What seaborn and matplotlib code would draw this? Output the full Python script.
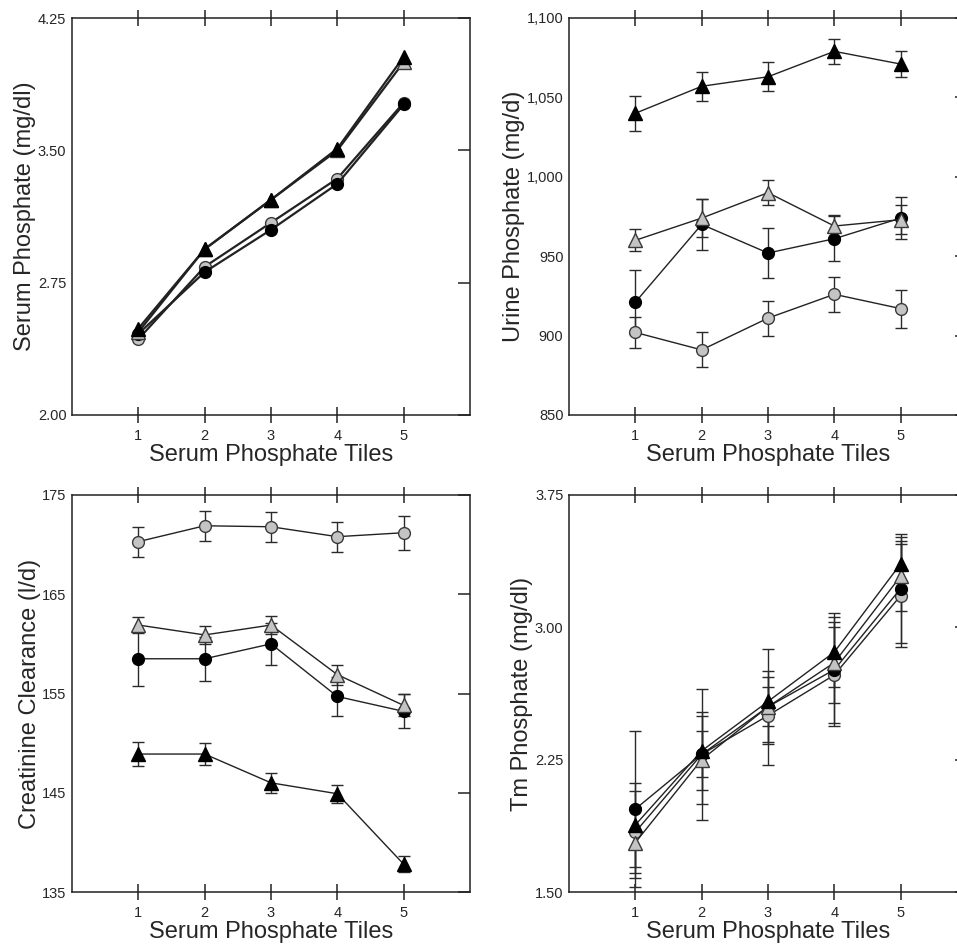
import numpy as np
import pandas as pd
import matplotlib
matplotlib.use("Agg")
import matplotlib.pyplot as plt
import seaborn as sns
from matplotlib.ticker import FuncFormatter

sns.set_style("ticks")
plt.rcParams['font.family'] = ['Liberation Sans', 'DejaVu Sans']

tiles = [1, 2, 3, 4, 5]
groups = ["open_circle", "filled_circle", "open_triangle", "filled_triangle"]

# Panel A: Serum phosphate (mg/dl)
serum_open_circle = [2.43, 2.84, 3.09, 3.34, 3.77]
serum_filled_circle = [2.46, 2.81, 3.05, 3.31, 3.76]
serum_open_triangle = [2.47, 2.94, 3.22, 3.50, 4.00]
serum_filled_triangle = [2.49, 2.94, 3.22, 3.51, 4.03]

# Panel B: Urine phosphate (mg/d) and SE
urine_open_circle = [902, 891, 911, 926, 917]
urine_open_circle_err = [10, 11, 11, 11, 12]
urine_filled_circle = [921, 970, 952, 961, 974]
urine_filled_circle_err = [20, 16, 16, 14, 13]
urine_open_triangle = [960, 974, 990, 969, 973]
urine_open_triangle_err = [7, 12, 8, 7, 9]
urine_filled_triangle = [1040, 1057, 1063, 1079, 1071]
urine_filled_triangle_err = [11, 9, 9, 8, 8]

# Panel C: Creatinine clearance (l/d) and SE
crcl_open_circle = [170.3, 171.9, 171.8, 170.8, 171.2]
crcl_open_circle_err = [1.5, 1.5, 1.5, 1.5, 1.7]
crcl_filled_circle = [158.5, 158.5, 160.0, 154.7, 153.2]
crcl_filled_circle_err = [2.7, 2.2, 2.1, 2.0, 1.7]
crcl_open_triangle = [161.9, 160.9, 161.9, 156.9, 153.8]
crcl_open_triangle_err = [0.8, 0.9, 0.9, 1.0, 1.1]
crcl_filled_triangle = [148.9, 148.9, 146.0, 144.9, 137.8]
crcl_filled_triangle_err = [1.2, 1.1, 1.0, 0.9, 0.8]

# Panel D: Tm phosphate (mg/dl) and SE
tm_open_circle = [1.84, 2.28, 2.50, 2.73, 3.18]
tm_open_circle_err = [0.23, 0.13, 0.16, 0.27, 0.29]
tm_filled_circle = [1.97, 2.28, 2.55, 2.76, 3.22]
tm_filled_circle_err = [0.44, 0.37, 0.33, 0.32, 0.31]
tm_open_triangle = [1.78, 2.25, 2.55, 2.80, 3.29]
tm_open_triangle_err = [0.20, 0.25, 0.20, 0.23, 0.20]
tm_filled_triangle = [1.88, 2.30, 2.58, 2.86, 3.36]
tm_filled_triangle_err = [0.24, 0.22, 0.14, 0.20, 0.15]

styles = {
    "open_circle": dict(marker="o", mfc="#c4c4c4", mec="#3a3a3a", ms=8.5),
    "filled_circle": dict(marker="o", mfc="black", mec="black", ms=8.5),
    "open_triangle": dict(marker="^", mfc="#c4c4c4", mec="#3a3a3a", ms=9.5),
    "filled_triangle": dict(marker="^", mfc="black", mec="black", ms=9.5),
}

W, H = 957, 944
fig = plt.figure(figsize=(W / 100, H / 100), dpi=100)

def pos(x0, y0, x1, y1):
    return [x0 / W, 1 - y1 / H, (x1 - x0) / W, (y1 - y0) / H]

panels = [
    dict(rect=pos(72, 18, 470, 415), ylabel="Serum Phosphate (mg/dl)", ylim=(2.0, 4.25),
         yticks=[2.00, 2.75, 3.50, 4.25], fmt=lambda v, p: f"{v:.2f}",
         data={"open_circle": (serum_open_circle, None), "filled_circle": (serum_filled_circle, None),
               "open_triangle": (serum_open_triangle, None), "filled_triangle": (serum_filled_triangle, None)},
         lw=1.6),
    dict(rect=pos(569, 18, 967, 415), ylabel="Urine Phosphate (mg/d)", ylim=(850, 1100),
         yticks=[850, 900, 950, 1000, 1050, 1100], fmt=lambda v, p: f"{int(v):,}",
         data={"open_circle": (urine_open_circle, urine_open_circle_err),
               "filled_circle": (urine_filled_circle, urine_filled_circle_err),
               "open_triangle": (urine_open_triangle, urine_open_triangle_err),
               "filled_triangle": (urine_filled_triangle, urine_filled_triangle_err)},
         lw=1.0),
    dict(rect=pos(72, 495, 470, 892), ylabel="Creatinine Clearance (l/d)", ylim=(135, 175),
         yticks=[135, 145, 155, 165, 175], fmt=lambda v, p: f"{int(v)}",
         data={"open_circle": (crcl_open_circle, crcl_open_circle_err),
               "filled_circle": (crcl_filled_circle, crcl_filled_circle_err),
               "open_triangle": (crcl_open_triangle, crcl_open_triangle_err),
               "filled_triangle": (crcl_filled_triangle, crcl_filled_triangle_err)},
         lw=1.0),
    dict(rect=pos(569, 495, 967, 892), ylabel="Tm Phosphate (mg/dl)", ylim=(1.5, 3.75),
         yticks=[1.50, 2.25, 3.00, 3.75], fmt=lambda v, p: f"{v:.2f}",
         data={"open_circle": (tm_open_circle, tm_open_circle_err),
               "filled_circle": (tm_filled_circle, tm_filled_circle_err),
               "open_triangle": (tm_open_triangle, tm_open_triangle_err),
               "filled_triangle": (tm_filled_triangle, tm_filled_triangle_err)},
         lw=1.0),
]

for p in panels:
    ax = fig.add_axes(p["rect"])
    for g in groups:
        y, err = p["data"][g]
        df = pd.DataFrame({"tile": tiles, "value": y})
        if err is not None:
            ax.errorbar(tiles, y, yerr=err, fmt="none", ecolor="#2a2a2a", elinewidth=1.0,
                        capsize=4, capthick=1.0, zorder=2)
        st = styles[g]
        sns.lineplot(data=df, x="tile", y="value", ax=ax, color="#222222", lw=p["lw"],
                     marker=st["marker"], markersize=st["ms"], markerfacecolor=st["mfc"],
                     markeredgecolor=st["mec"], markeredgewidth=1.0, zorder=3)
    ax.set_xlim(0, 6)
    ax.set_ylim(*p["ylim"])
    ax.set_xticks(tiles)
    ax.set_yticks(p["yticks"])
    ax.yaxis.set_major_formatter(FuncFormatter(p["fmt"]))
    for s in ax.spines.values():
        s.set_visible(True)
        s.set_linewidth(1.1)
        s.set_color("#222222")
    ax.tick_params(axis="x", which="major", direction="inout", length=12, width=1.1,
                   color="#222222", top=True, bottom=True, labelsize=10.5, pad=4)
    ax.tick_params(axis="y", which="major", direction="in", length=9, width=1.1,
                   color="#222222", left=False, right=True, labelsize=10.5, pad=4)
    ax.set_xlabel("Serum Phosphate Tiles", fontsize=17, labelpad=1)
    ax.set_ylabel(p["ylabel"], fontsize=17, labelpad=1)

fig.savefig("out.png", dpi=100)
